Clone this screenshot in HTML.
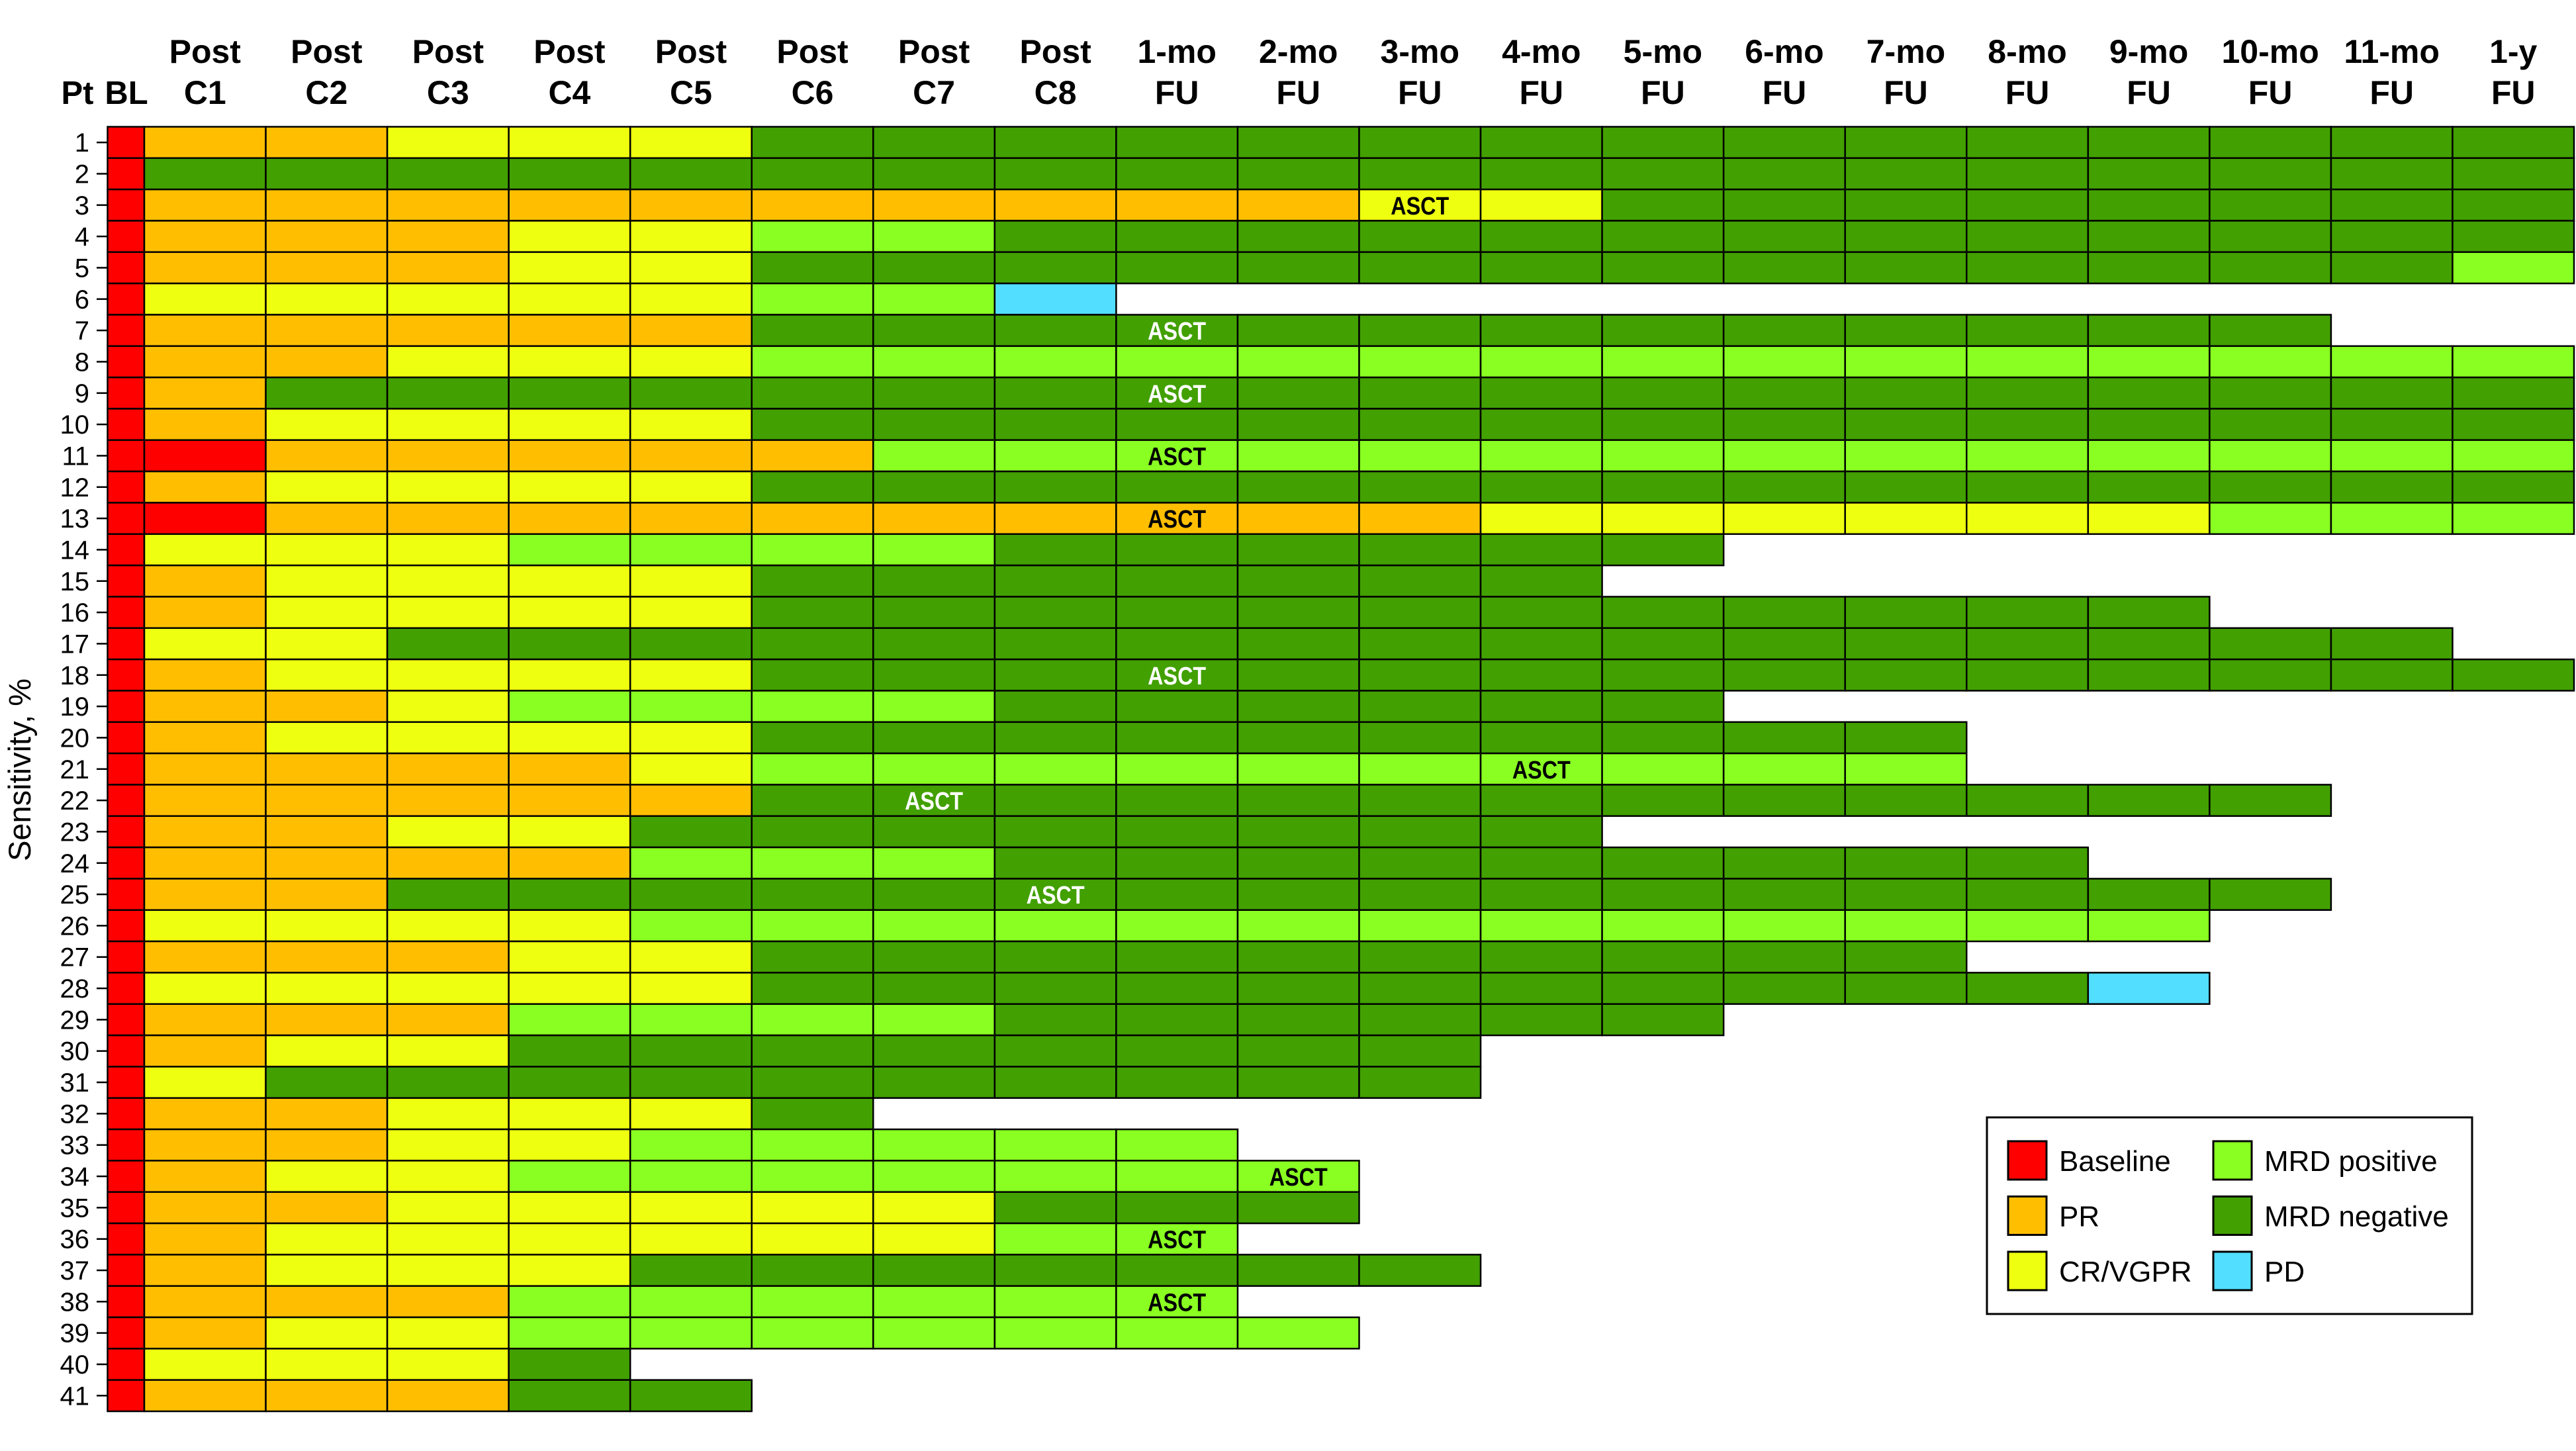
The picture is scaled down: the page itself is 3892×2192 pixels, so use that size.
<!DOCTYPE html>
<html><head><meta charset="utf-8"><style>
html,body{margin:0;padding:0;background:#fff;}
svg{display:block;}
text{font-family:"Liberation Sans",sans-serif;}
</style></head><body>
<svg id="chart" width="3892" height="2192" viewBox="0 0 3892 2192" xmlns="http://www.w3.org/2000/svg">
<g id="header"></g>
<g id="rowlabels"></g>
<g id="cells"></g>
<g id="ascts"></g>
<text transform="translate(46,1163) rotate(-90)" text-anchor="middle" font-size="47">Sensitivity, %</text>
<g>
<rect x="3002" y="1688" width="733" height="297" fill="#fff" stroke="#000" stroke-width="3"/>
<g id="legend-entries"></g>
</g>
</svg>
<script>
const columnLine1 = ["Post","Post","Post","Post","Post","Post","Post","Post","1-mo","2-mo","3-mo","4-mo","5-mo","6-mo","7-mo","8-mo","9-mo","10-mo","11-mo","1-y"];
const columnLine2 = ["C1","C2","C3","C4","C5","C6","C7","C8","FU","FU","FU","FU","FU","FU","FU","FU","FU","FU","FU","FU"];
const patients = [1,2,3,4,5,6,7,8,9,10,11,12,13,14,15,16,17,18,19,20,21,22,23,24,25,26,27,28,29,30,31,32,33,34,35,36,37,38,39,40,41];
// R=baseline O=PR Y=CR/VGPR L=MRD positive G=MRD negative B=PD
const statusRows = [
"OOYYYGGGGGGGGGGGGGGG",
"GGGGGGGGGGGGGGGGGGGG",
"OOOOOOOOOOYYGGGGGGGG",
"OOOYYLLGGGGGGGGGGGGG",
"OOOYYGGGGGGGGGGGGGGL",
"YYYYYLLB",
"OOOOOGGGGGGGGGGGGG",
"OOYYYLLLLLLLLLLLLLLL",
"OGGGGGGGGGGGGGGGGGGG",
"OYYYYGGGGGGGGGGGGGGG",
"ROOOOOLLLLLLLLLLLLLL",
"OYYYYGGGGGGGGGGGGGGG",
"ROOOOOOOOOOYYYYYYLLL",
"YYYLLLLGGGGGG",
"OYYYYGGGGGGG",
"OYYYYGGGGGGGGGGGG",
"YYGGGGGGGGGGGGGGGGG",
"OYYYYGGGGGGGGGGGGGGG",
"OOYLLLLGGGGGG",
"OYYYYGGGGGGGGGG",
"OOOOYLLLLLLLLLL",
"OOOOOGGGGGGGGGGGGG",
"OOYYGGGGGGGG",
"OOOOLLLGGGGGGGGG",
"OOGGGGGGGGGGGGGGGG",
"YYYYLLLLLLLLLLLLL",
"OOOYYGGGGGGGGGG",
"YYYYYGGGGGGGGGGGB",
"OOOLLLLGGGGGG",
"OYYGGGGGGGG",
"YGGGGGGGGGG",
"OOYYYG",
"OOYYLLLLL",
"OYYLLLLLLL",
"OOYYYYYGGG",
"OYYYYYYLL",
"OYYYGGGGGGG",
"OOOLLLLLL",
"OYYLLLLLLL",
"YYYG",
"OOOGG"
];
const asctPatients = [3,7,9,11,13,18,21,22,25,34,36,38];
const asctColumns  = [10,8,8,8,8,8,11,6,7,9,8,8];
const legendLabels = ["Baseline","PR","CR/VGPR","MRD positive","MRD negative","PD"];
const legendCodes  = ["R","O","Y","L","G","B"];

const colors = {R:"#FF0000",O:"#FFBF00",Y:"#EFFF10",L:"#8AFF22",G:"#42A000",B:"#52DEFF"};
const NS = "http://www.w3.org/2000/svg";
const gridTop = 191.5, rowH = 47.33, blX = 162.5, blW = 55.5, colX0 = 218, colW = 183.55;
function xCol(i){ return colX0 + i*colW; }
function yRow(r){ return gridTop + r*rowH; }
function mk(tag, attrs, parent){ const e=document.createElementNS(NS,tag); for(const k in attrs) e.setAttribute(k,attrs[k]); parent.appendChild(e); return e; }

const header = document.getElementById('header');
let t = mk('text',{x:117,y:157,'text-anchor':'middle','font-size':49,'font-weight':'bold'},header);
t.textContent='Pt';


t = mk('text',{x:191,y:157,'text-anchor':'middle','font-size':49,'font-weight':'bold'},header);
t.textContent='BL';


columnLine1.forEach((lab,i)=>{
  const cx = xCol(i)+colW/2;
  const a = mk('text',{x:cx,y:95,'text-anchor':'middle','font-size':50,'font-weight':'bold'},header);
  a.textContent = lab;
  
  
  const b = mk('text',{x:cx,y:157,'text-anchor':'middle','font-size':50,'font-weight':'bold'},header);
  b.textContent = columnLine2[i];
  
  
});

const rl = document.getElementById('rowlabels');
const cells = document.getElementById('cells');
patients.forEach((p,r)=>{
  const cy = yRow(r)+rowH/2;
  const lt = mk('text',{x:135,y:cy+14,'text-anchor':'end','font-size':40},rl);
  lt.textContent = p;
  
  
  const tk = mk('line',{x1:146,x2:162,y1:cy,y2:cy,stroke:'#000','stroke-width':2.5},rl);
  
  
  const bl = mk('rect',{x:blX,y:yRow(r),width:blW,height:rowH,fill:colors.R,stroke:'#000','stroke-width':2.5},cells);
  
  
  const row = statusRows[r];
  for(let i=0;i<row.length;i++){
    const c = mk('rect',{x:xCol(i),y:yRow(r),width:colW,height:rowH,fill:colors[row[i]],stroke:'#000','stroke-width':2.5},cells);
    
    
  }
});

const ag = document.getElementById('ascts');
asctPatients.forEach((p,k)=>{
  const r = patients.indexOf(p), ci = asctColumns[k];
  const code = statusRows[r][ci];
  const a = mk('text',{x:xCol(ci)+colW/2,y:yRow(r)+rowH/2+14,'text-anchor':'middle','font-size':38,'font-weight':'bold',fill:code==='G'?'#fff':'#000',textLength:88,lengthAdjust:'spacingAndGlyphs'},ag);
  a.textContent='ASCT';
  
  
});

const lg = document.getElementById('legend-entries');
legendLabels.forEach((lab,i)=>{
  const col = Math.floor(i/3), rr = i%3;
  const sx = col===0?3034:3344, sy = 1724 + rr*83.5;
  const s = mk('rect',{x:sx,y:sy,width:58,height:58,fill:colors[legendCodes[i]],stroke:'#000','stroke-width':3},lg);
  
  
  const tx = mk('text',{x:sx+77,y:sy+45,'font-size':44},lg);
  tx.textContent = lab;
  
  
});
</script>
</body></html>
